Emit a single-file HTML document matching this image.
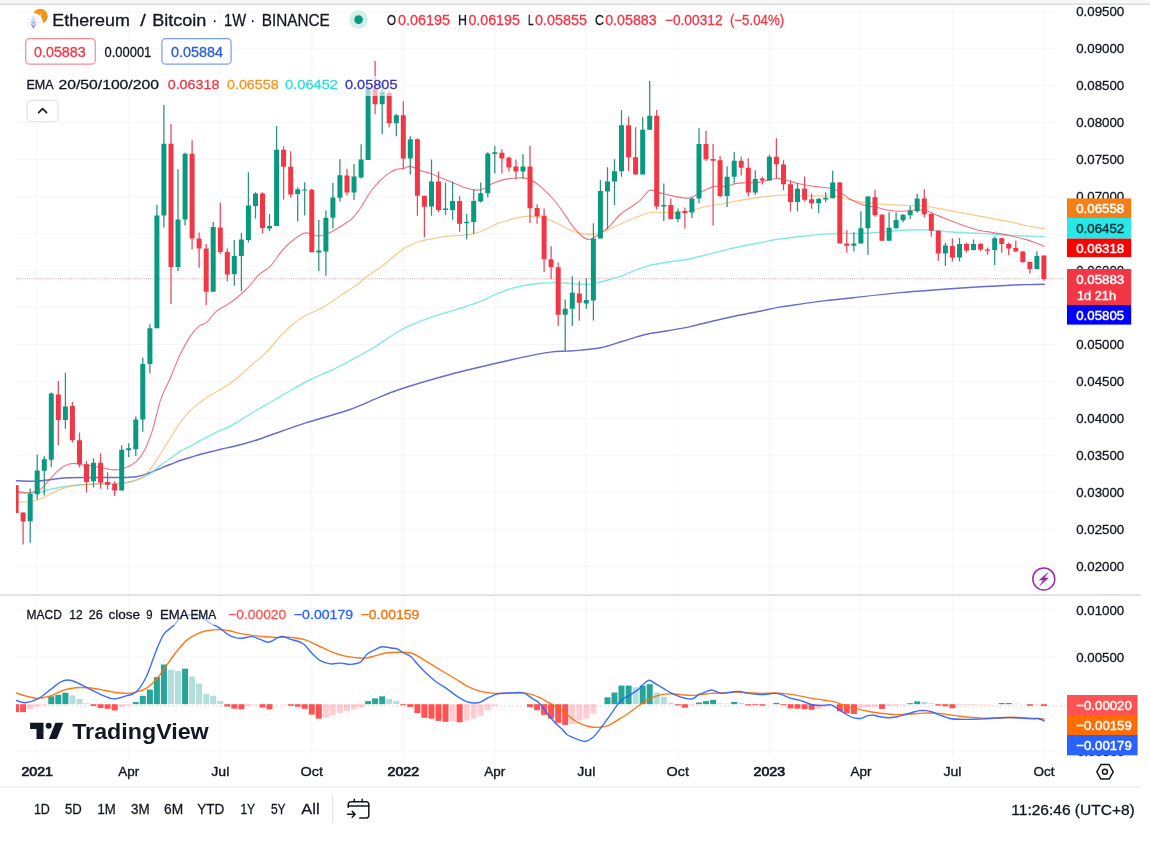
<!DOCTYPE html>
<html lang="en"><head><meta charset="utf-8"><title>Ethereum / Bitcoin 1W BINANCE</title>
<style>html,body{margin:0;padding:0;background:#fff;overflow:hidden}svg{display:block;font-family:"Liberation Sans", "DejaVu Sans", sans-serif;filter:blur(0.45px)}text{white-space:pre}</style>
</head><body>
<svg width="1150" height="847" viewBox="0 0 1150 847">
<rect x="0" y="0" width="1150" height="847" fill="#ffffff"/>
<rect x="0" y="0" width="1150" height="4" fill="#f7f7f8"/>
<rect x="0" y="3.6" width="1150" height="1.2" fill="#d4d5d8"/>
<g stroke="#f5f6f8" stroke-width="1">
<line x1="16" y1="11.8" x2="1057" y2="11.8"/>
<line x1="16" y1="48.7" x2="1057" y2="48.7"/>
<line x1="16" y1="85.7" x2="1057" y2="85.7"/>
<line x1="16" y1="122.7" x2="1057" y2="122.7"/>
<line x1="16" y1="159.6" x2="1057" y2="159.6"/>
<line x1="16" y1="196.6" x2="1057" y2="196.6"/>
<line x1="16" y1="233.6" x2="1057" y2="233.6"/>
<line x1="16" y1="270.5" x2="1057" y2="270.5"/>
<line x1="16" y1="307.5" x2="1057" y2="307.5"/>
<line x1="16" y1="344.5" x2="1057" y2="344.5"/>
<line x1="16" y1="381.4" x2="1057" y2="381.4"/>
<line x1="16" y1="418.4" x2="1057" y2="418.4"/>
<line x1="16" y1="455.4" x2="1057" y2="455.4"/>
<line x1="16" y1="492.4" x2="1057" y2="492.4"/>
<line x1="16" y1="529.3" x2="1057" y2="529.3"/>
<line x1="16" y1="566.3" x2="1057" y2="566.3"/>
<line x1="16" y1="610.0" x2="1057" y2="610.0"/>
<line x1="16" y1="657.0" x2="1057" y2="657.0"/>
<line x1="16" y1="751.0" x2="1057" y2="751.0"/>
<line x1="37.2" y1="5" x2="37.2" y2="594" />
<line x1="37.2" y1="597" x2="37.2" y2="757" />
<line x1="128.7" y1="5" x2="128.7" y2="594" />
<line x1="128.7" y1="597" x2="128.7" y2="757" />
<line x1="220.3" y1="5" x2="220.3" y2="594" />
<line x1="220.3" y1="597" x2="220.3" y2="757" />
<line x1="311.8" y1="5" x2="311.8" y2="594" />
<line x1="311.8" y1="597" x2="311.8" y2="757" />
<line x1="403.3" y1="5" x2="403.3" y2="594" />
<line x1="403.3" y1="597" x2="403.3" y2="757" />
<line x1="494.8" y1="5" x2="494.8" y2="594" />
<line x1="494.8" y1="597" x2="494.8" y2="757" />
<line x1="586.3" y1="5" x2="586.3" y2="594" />
<line x1="586.3" y1="597" x2="586.3" y2="757" />
<line x1="677.9" y1="5" x2="677.9" y2="594" />
<line x1="677.9" y1="597" x2="677.9" y2="757" />
<line x1="769.4" y1="5" x2="769.4" y2="594" />
<line x1="769.4" y1="597" x2="769.4" y2="757" />
<line x1="860.9" y1="5" x2="860.9" y2="594" />
<line x1="860.9" y1="597" x2="860.9" y2="757" />
<line x1="952.4" y1="5" x2="952.4" y2="594" />
<line x1="952.4" y1="597" x2="952.4" y2="757" />
<line x1="1043.9" y1="5" x2="1043.9" y2="594" />
<line x1="1043.9" y1="597" x2="1043.9" y2="757" />
</g>
<rect x="0" y="594.2" width="1141" height="1.8" fill="#dfe0e4"/>
<rect x="0" y="786" width="1141" height="1.6" fill="#eff0f2"/>
<line x1="16" y1="278.8" x2="1066" y2="278.8" stroke="#cf7f8a" stroke-width="1" stroke-dasharray="1 1.2" opacity="0.75"/>
<defs><clipPath id="cp"><rect x="16" y="4" width="1050" height="784"/></clipPath></defs>
<g clip-path="url(#cp)">
<rect x="13.1" y="704.2" width="6" height="7.9" fill="#ff5252"/>
<rect x="20.1" y="704.2" width="6" height="7.9" fill="#ff5252"/>
<rect x="27.2" y="704.2" width="6" height="5.2" fill="#ffcdd2"/>
<rect x="34.2" y="704.2" width="6" height="2.5" fill="#ffcdd2"/>
<rect x="41.3" y="704.2" width="6" height="1.0" fill="#ffcdd2"/>
<rect x="48.3" y="696.3" width="6" height="7.9" fill="#26a69a"/>
<rect x="55.3" y="694.8" width="6" height="9.4" fill="#26a69a"/>
<rect x="62.4" y="692.7" width="6" height="11.5" fill="#26a69a"/>
<rect x="69.4" y="695.4" width="6" height="8.8" fill="#b2dfdb"/>
<rect x="76.5" y="699.0" width="6" height="5.2" fill="#b2dfdb"/>
<rect x="83.5" y="703.2" width="6" height="1.0" fill="#b2dfdb"/>
<rect x="90.5" y="704.2" width="6" height="1.7" fill="#ff5252"/>
<rect x="97.6" y="704.2" width="6" height="3.8" fill="#ff5252"/>
<rect x="104.6" y="704.2" width="6" height="4.6" fill="#ff5252"/>
<rect x="111.7" y="704.2" width="6" height="6.3" fill="#ff5252"/>
<rect x="118.7" y="704.2" width="6" height="2.5" fill="#ffcdd2"/>
<rect x="125.7" y="704.2" width="6" height="1.3" fill="#ffcdd2"/>
<rect x="132.8" y="702.1" width="6" height="2.1" fill="#26a69a"/>
<rect x="139.8" y="695.8" width="6" height="8.4" fill="#26a69a"/>
<rect x="146.9" y="689.6" width="6" height="14.6" fill="#26a69a"/>
<rect x="153.9" y="677.1" width="6" height="27.1" fill="#26a69a"/>
<rect x="160.9" y="664.5" width="6" height="39.7" fill="#26a69a"/>
<rect x="168.0" y="669.8" width="6" height="34.4" fill="#b2dfdb"/>
<rect x="175.0" y="670.8" width="6" height="33.4" fill="#b2dfdb"/>
<rect x="182.1" y="668.7" width="6" height="35.5" fill="#26a69a"/>
<rect x="189.1" y="676.6" width="6" height="27.6" fill="#b2dfdb"/>
<rect x="196.1" y="683.7" width="6" height="20.5" fill="#b2dfdb"/>
<rect x="203.2" y="693.8" width="6" height="10.4" fill="#b2dfdb"/>
<rect x="210.2" y="695.8" width="6" height="8.4" fill="#b2dfdb"/>
<rect x="217.3" y="701.1" width="6" height="3.1" fill="#b2dfdb"/>
<rect x="224.3" y="704.2" width="6" height="2.3" fill="#ff5252"/>
<rect x="231.3" y="704.2" width="6" height="4.4" fill="#ff5252"/>
<rect x="238.4" y="704.2" width="6" height="5.0" fill="#ff5252"/>
<rect x="245.4" y="704.2" width="6" height="1.9" fill="#ffcdd2"/>
<rect x="252.5" y="704.2" width="6" height="0.6" fill="#ffcdd2"/>
<rect x="259.5" y="704.2" width="6" height="3.3" fill="#ff5252"/>
<rect x="266.5" y="704.2" width="6" height="5.0" fill="#ff5252"/>
<rect x="280.6" y="704.2" width="6" height="0.5" fill="#ffcdd2"/>
<rect x="287.7" y="704.2" width="6" height="1.5" fill="#ff5252"/>
<rect x="294.7" y="704.2" width="6" height="2.5" fill="#ff5252"/>
<rect x="301.7" y="704.2" width="6" height="4.6" fill="#ff5252"/>
<rect x="308.8" y="704.2" width="6" height="10.4" fill="#ff5252"/>
<rect x="315.8" y="704.2" width="6" height="14.4" fill="#ff5252"/>
<rect x="322.9" y="704.2" width="6" height="13.6" fill="#ffcdd2"/>
<rect x="329.9" y="704.2" width="6" height="10.9" fill="#ffcdd2"/>
<rect x="336.9" y="704.2" width="6" height="8.8" fill="#ffcdd2"/>
<rect x="344.0" y="704.2" width="6" height="6.7" fill="#ffcdd2"/>
<rect x="351.0" y="704.2" width="6" height="5.2" fill="#ffcdd2"/>
<rect x="358.1" y="704.2" width="6" height="3.1" fill="#ffcdd2"/>
<rect x="365.1" y="701.1" width="6" height="3.1" fill="#26a69a"/>
<rect x="372.1" y="698.4" width="6" height="5.8" fill="#26a69a"/>
<rect x="379.2" y="696.3" width="6" height="7.9" fill="#26a69a"/>
<rect x="386.2" y="699.0" width="6" height="5.2" fill="#b2dfdb"/>
<rect x="393.3" y="701.1" width="6" height="3.1" fill="#b2dfdb"/>
<rect x="400.3" y="704.2" width="6" height="1.0" fill="#ff5252"/>
<rect x="407.3" y="704.2" width="6" height="2.7" fill="#ff5252"/>
<rect x="414.4" y="704.2" width="6" height="8.8" fill="#ff5252"/>
<rect x="421.4" y="704.2" width="6" height="13.6" fill="#ff5252"/>
<rect x="428.5" y="704.2" width="6" height="14.4" fill="#ff5252"/>
<rect x="435.5" y="704.2" width="6" height="16.7" fill="#ff5252"/>
<rect x="442.5" y="704.2" width="6" height="17.6" fill="#ff5252"/>
<rect x="449.6" y="704.2" width="6" height="17.0" fill="#ffcdd2"/>
<rect x="456.6" y="704.2" width="6" height="18.1" fill="#ff5252"/>
<rect x="463.7" y="704.2" width="6" height="16.5" fill="#ffcdd2"/>
<rect x="470.7" y="704.2" width="6" height="14.4" fill="#ffcdd2"/>
<rect x="477.7" y="704.2" width="6" height="11.9" fill="#ffcdd2"/>
<rect x="484.8" y="704.2" width="6" height="6.0" fill="#ffcdd2"/>
<rect x="491.8" y="704.2" width="6" height="1.5" fill="#ffcdd2"/>
<rect x="527.0" y="704.2" width="6" height="2.9" fill="#ff5252"/>
<rect x="534.1" y="704.2" width="6" height="6.0" fill="#ff5252"/>
<rect x="541.1" y="704.2" width="6" height="10.6" fill="#ff5252"/>
<rect x="548.1" y="704.2" width="6" height="14.4" fill="#ff5252"/>
<rect x="555.2" y="704.2" width="6" height="18.6" fill="#ff5252"/>
<rect x="562.2" y="704.2" width="6" height="20.7" fill="#ff5252"/>
<rect x="569.3" y="704.2" width="6" height="19.6" fill="#ffcdd2"/>
<rect x="576.3" y="704.2" width="6" height="16.5" fill="#ffcdd2"/>
<rect x="583.3" y="704.2" width="6" height="14.4" fill="#ffcdd2"/>
<rect x="590.4" y="704.2" width="6" height="9.2" fill="#ffcdd2"/>
<rect x="604.5" y="697.3" width="6" height="6.9" fill="#26a69a"/>
<rect x="611.5" y="692.5" width="6" height="11.7" fill="#26a69a"/>
<rect x="618.5" y="685.6" width="6" height="18.6" fill="#26a69a"/>
<rect x="625.6" y="685.6" width="6" height="18.6" fill="#26a69a"/>
<rect x="632.6" y="687.3" width="6" height="16.9" fill="#b2dfdb"/>
<rect x="639.7" y="685.6" width="6" height="18.6" fill="#26a69a"/>
<rect x="646.7" y="684.2" width="6" height="20.0" fill="#26a69a"/>
<rect x="653.7" y="692.5" width="6" height="11.7" fill="#b2dfdb"/>
<rect x="660.8" y="696.7" width="6" height="7.5" fill="#b2dfdb"/>
<rect x="667.8" y="702.8" width="6" height="1.4" fill="#b2dfdb"/>
<rect x="674.9" y="704.2" width="6" height="1.2" fill="#ff5252"/>
<rect x="681.9" y="704.2" width="6" height="3.5" fill="#ff5252"/>
<rect x="688.9" y="704.2" width="6" height="1.0" fill="#ffcdd2"/>
<rect x="696.0" y="702.5" width="6" height="1.7" fill="#26a69a"/>
<rect x="703.0" y="701.1" width="6" height="3.1" fill="#26a69a"/>
<rect x="710.1" y="699.9" width="6" height="4.3" fill="#26a69a"/>
<rect x="717.1" y="703.4" width="6" height="0.8" fill="#b2dfdb"/>
<rect x="724.1" y="703.6" width="6" height="0.6" fill="#b2dfdb"/>
<rect x="731.2" y="701.9" width="6" height="2.3" fill="#26a69a"/>
<rect x="738.2" y="703.0" width="6" height="1.2" fill="#b2dfdb"/>
<rect x="745.3" y="704.2" width="6" height="1.2" fill="#ff5252"/>
<rect x="752.3" y="704.2" width="6" height="0.9" fill="#ff5252"/>
<rect x="759.3" y="704.2" width="6" height="1.5" fill="#ff5252"/>
<rect x="773.4" y="702.8" width="6" height="1.4" fill="#26a69a"/>
<rect x="780.5" y="704.2" width="6" height="1.0" fill="#ff5252"/>
<rect x="787.5" y="704.2" width="6" height="4.2" fill="#ff5252"/>
<rect x="794.5" y="704.2" width="6" height="4.5" fill="#ff5252"/>
<rect x="801.6" y="704.2" width="6" height="4.9" fill="#ff5252"/>
<rect x="808.6" y="704.2" width="6" height="5.5" fill="#ff5252"/>
<rect x="815.7" y="704.2" width="6" height="4.7" fill="#ffcdd2"/>
<rect x="822.7" y="704.2" width="6" height="2.4" fill="#ffcdd2"/>
<rect x="829.7" y="704.2" width="6" height="0.5" fill="#ffcdd2"/>
<rect x="836.8" y="704.2" width="6" height="7.1" fill="#ff5252"/>
<rect x="843.8" y="704.2" width="6" height="9.2" fill="#ff5252"/>
<rect x="850.9" y="704.2" width="6" height="9.7" fill="#ff5252"/>
<rect x="857.9" y="704.2" width="6" height="3.4" fill="#ffcdd2"/>
<rect x="864.9" y="704.2" width="6" height="3.0" fill="#ffcdd2"/>
<rect x="872.0" y="704.2" width="6" height="2.6" fill="#ffcdd2"/>
<rect x="879.0" y="704.2" width="6" height="4.7" fill="#ff5252"/>
<rect x="886.1" y="704.2" width="6" height="1.9" fill="#ffcdd2"/>
<rect x="893.1" y="704.2" width="6" height="1.4" fill="#ffcdd2"/>
<rect x="900.1" y="704.2" width="6" height="0.7" fill="#ffcdd2"/>
<rect x="907.2" y="703.2" width="6" height="1.0" fill="#26a69a"/>
<rect x="914.2" y="701.4" width="6" height="2.8" fill="#26a69a"/>
<rect x="921.3" y="702.0" width="6" height="2.2" fill="#b2dfdb"/>
<rect x="928.3" y="703.3" width="6" height="0.9" fill="#b2dfdb"/>
<rect x="935.3" y="704.2" width="6" height="1.4" fill="#ff5252"/>
<rect x="942.4" y="704.2" width="6" height="2.1" fill="#ff5252"/>
<rect x="949.4" y="704.2" width="6" height="4.0" fill="#ff5252"/>
<rect x="956.5" y="704.2" width="6" height="1.0" fill="#ffcdd2"/>
<rect x="963.5" y="704.2" width="6" height="0.8" fill="#ffcdd2"/>
<rect x="970.5" y="704.2" width="6" height="0.8" fill="#ffcdd2"/>
<rect x="977.6" y="704.2" width="6" height="0.6" fill="#ffcdd2"/>
<rect x="984.6" y="704.2" width="6" height="0.5" fill="#ffcdd2"/>
<rect x="998.7" y="703.0" width="6" height="1.2" fill="#26a69a"/>
<rect x="1005.7" y="703.0" width="6" height="1.2" fill="#26a69a"/>
<rect x="1012.8" y="703.6" width="6" height="0.6" fill="#b2dfdb"/>
<rect x="1019.8" y="704.2" width="6" height="0.4" fill="#ffcdd2"/>
<rect x="1026.9" y="704.2" width="6" height="1.6" fill="#ff5252"/>
<rect x="1033.9" y="704.2" width="6" height="0.6" fill="#ffcdd2"/>
<rect x="1040.9" y="704.2" width="6" height="1.8" fill="#ff5252"/>
<line x1="16" y1="706.0" x2="1066" y2="706.0" stroke="#ff5252" stroke-width="0.8" stroke-dasharray="2 2" opacity="0.35"/>
<path d="M16.3 480.8C19.5 480.9 29.8 481.3 35.4 481.1C40.9 480.9 44.9 480.2 49.6 479.7C54.3 479.2 57.9 478.4 63.8 478.0C69.7 477.6 75.8 477.6 85.0 477.5C94.2 477.4 110.4 477.6 119.0 477.5C127.6 477.4 131.6 477.4 136.5 476.7C141.4 476.0 144.5 474.7 148.5 473.3C152.5 471.9 156.8 469.8 160.5 468.3C164.2 466.8 167.2 465.6 170.6 464.3C173.9 463.0 177.2 461.5 180.6 460.3C183.9 459.1 187.3 458.3 190.7 457.3C194.0 456.3 197.4 455.1 200.7 454.2C204.0 453.3 207.3 452.6 210.7 451.8C214.0 451.0 217.6 450.0 220.8 449.2C224.0 448.4 226.8 447.9 230.0 447.2C233.2 446.5 234.9 446.3 240.2 444.8C245.5 443.3 251.1 441.9 262.0 438.2C272.9 434.5 291.1 427.6 305.7 422.9C320.2 418.2 337.7 413.8 349.3 409.8C360.9 405.8 367.1 402.3 375.5 398.9C383.9 395.5 387.6 393.4 400.0 389.3C412.4 385.2 431.6 379.4 450.0 374.5C468.4 369.6 497.0 363.1 510.4 360.0C523.8 356.9 523.7 356.9 530.4 355.6C537.1 354.3 544.5 352.9 550.5 352.1C556.5 351.4 561.6 351.4 566.6 351.1C571.6 350.8 574.9 350.7 580.6 350.1C586.3 349.6 593.7 349.3 600.7 347.8C607.7 346.3 615.2 343.5 622.6 341.3C630.0 339.1 637.7 336.3 645.2 334.5C652.7 332.7 660.3 332.0 667.8 330.7C675.3 329.4 682.9 328.2 690.4 326.6C697.9 325.0 705.5 322.8 713.0 321.0C720.5 319.2 728.2 317.6 735.7 316.0C743.2 314.4 750.8 313.0 758.3 311.5C765.8 310.0 773.4 308.2 780.9 306.9C788.4 305.6 796.0 304.7 803.5 303.6C811.0 302.6 818.6 301.5 826.1 300.6C833.6 299.7 843.0 298.9 848.7 298.3C854.4 297.7 851.7 297.8 860.3 296.9C868.9 295.9 887.0 293.8 900.4 292.6C913.8 291.4 927.1 290.5 940.5 289.5C953.9 288.5 969.1 287.4 980.7 286.7C992.3 286.0 1002.5 285.5 1010.0 285.2C1017.5 284.9 1020.3 284.8 1026.0 284.6C1031.7 284.5 1041.2 284.4 1044.3 284.3" fill="none" stroke="#4040c4" stroke-width="1.45" stroke-opacity="0.78" stroke-linejoin="round" stroke-linecap="round"/>
<path d="M16.3 493.0C18.6 493.0 25.6 493.2 30.0 493.0C34.4 492.8 39.2 492.3 42.5 491.7C45.8 491.1 46.8 490.3 49.6 489.6C52.4 488.9 56.0 488.2 59.5 487.5C63.0 486.8 66.5 486.1 70.8 485.6C75.0 485.1 80.1 484.9 85.0 484.6C89.9 484.3 94.4 484.2 100.3 484.0C106.2 483.8 115.0 483.8 120.4 483.4C125.8 482.9 129.2 482.1 132.5 481.3C135.8 480.5 137.5 479.6 140.5 478.3C143.5 477.0 147.2 475.5 150.5 473.3C153.8 471.1 157.2 467.8 160.5 465.3C163.8 462.8 167.2 460.7 170.6 458.3C173.9 455.9 177.2 453.2 180.6 451.2C183.9 449.2 187.3 448.0 190.7 446.2C194.0 444.4 197.4 442.0 200.7 440.2C204.0 438.4 207.3 436.9 210.7 435.2C214.0 433.5 217.6 431.7 220.8 430.2C224.0 428.7 224.8 429.1 230.0 426.2C235.2 423.3 244.6 417.4 252.0 413.0C259.4 408.6 268.1 403.8 274.5 400.0C280.9 396.2 284.5 393.9 290.5 390.5C296.5 387.1 303.9 382.8 310.6 379.5C317.3 376.2 324.0 373.7 330.7 370.5C337.4 367.3 345.9 362.9 350.8 360.4C355.7 357.9 355.9 357.7 360.0 355.4C364.1 353.1 368.8 350.6 375.5 346.5C382.2 342.4 392.6 334.7 400.0 330.5C407.4 326.3 413.4 324.1 420.1 321.4C426.8 318.7 433.4 316.6 440.1 314.4C446.8 312.2 453.5 310.6 460.2 308.4C466.9 306.2 473.6 304.1 480.3 301.4C487.0 298.7 493.6 294.8 500.3 292.3C507.0 289.8 513.7 287.8 520.4 286.3C527.1 284.8 533.8 283.9 540.5 283.3C547.2 282.7 553.8 282.5 560.5 282.7C567.2 282.9 575.2 284.1 580.6 284.3C586.0 284.5 589.4 284.3 592.7 283.9C596.1 283.5 597.4 282.9 600.7 282.0C604.0 281.1 609.1 279.6 612.7 278.5C616.4 277.4 617.2 277.7 622.6 275.7C628.0 273.7 637.7 268.9 645.2 266.7C652.7 264.4 660.3 263.5 667.8 262.2C675.3 260.9 682.9 260.3 690.4 258.8C697.9 257.3 705.5 255.0 713.0 253.1C720.5 251.2 728.2 249.2 735.7 247.5C743.2 245.8 750.8 244.4 758.3 243.0C765.8 241.6 773.4 239.9 780.9 238.8C788.4 237.7 796.0 237.0 803.5 236.2C811.0 235.4 820.0 234.4 826.1 233.9C832.2 233.4 834.5 233.5 840.2 233.4C845.9 233.3 853.6 233.6 860.3 233.4C867.0 233.2 873.6 232.8 880.3 232.3C887.0 231.8 893.7 230.7 900.4 230.3C907.1 229.9 915.1 229.7 920.5 229.7C925.9 229.7 927.1 229.9 932.5 230.3C937.9 230.7 944.6 231.5 952.6 232.0C960.6 232.5 972.7 232.9 980.7 233.4C988.7 233.9 995.9 234.5 1000.8 234.8C1005.7 235.1 1002.8 235.1 1010.0 235.4C1017.2 235.7 1038.6 236.4 1044.3 236.6" fill="none" stroke="#55e0d8" stroke-width="1.4" stroke-opacity="0.72" stroke-linejoin="round" stroke-linecap="round"/>
<path d="M16.3 502.3C17.8 502.2 22.6 502.2 25.5 502.0C28.4 501.8 31.4 501.4 34.0 500.9C36.6 500.4 38.5 499.9 41.1 498.8C43.7 497.7 46.5 496.0 49.6 494.5C52.7 493.0 56.4 490.9 59.5 489.6C62.6 488.3 64.7 487.6 68.0 486.8C71.3 486.1 75.5 485.5 79.3 485.1C83.1 484.7 86.5 484.4 90.7 484.2C95.0 483.9 99.8 483.7 104.8 483.6C109.8 483.5 115.8 484.0 120.4 483.6C125.0 483.2 129.2 482.2 132.5 481.3C135.8 480.4 137.8 480.0 140.5 478.3C143.2 476.6 145.8 474.3 148.5 471.3C151.2 468.3 153.8 464.3 156.5 460.3C159.2 456.3 161.9 451.6 164.6 447.2C167.3 442.8 169.9 438.4 172.6 434.2C175.3 430.0 177.6 426.1 180.6 422.1C183.6 418.1 187.3 413.4 190.7 410.1C194.0 406.8 197.4 404.6 200.7 402.1C204.0 399.6 207.4 397.1 210.7 395.0C214.0 392.9 217.0 391.5 220.3 389.5C223.6 387.5 226.6 385.9 230.3 383.2C234.0 380.5 238.4 376.9 242.4 373.5C246.4 370.1 250.4 366.0 254.4 362.5C258.4 359.0 262.5 356.4 266.5 352.4C270.5 348.4 274.5 342.8 278.5 338.4C282.5 334.0 286.5 329.8 290.5 326.3C294.5 322.8 298.9 319.6 302.6 317.3C306.3 315.0 308.9 314.1 312.6 312.3C316.3 310.5 320.7 308.7 324.7 306.3C328.7 303.9 332.7 300.9 336.7 298.2C340.7 295.5 345.2 292.5 348.8 290.2C352.4 287.9 355.0 286.5 358.0 284.2C361.0 281.9 362.4 279.9 366.8 276.6C371.2 273.3 378.8 268.6 384.3 264.4C389.8 260.2 395.7 254.4 400.0 251.2C404.3 248.0 406.6 246.9 410.0 245.2C413.4 243.5 416.8 242.2 420.1 241.2C423.5 240.2 426.8 239.9 430.1 239.2C433.4 238.5 436.4 237.8 440.1 237.2C443.8 236.6 448.2 236.1 452.2 235.8C456.2 235.5 460.2 235.6 464.2 235.2C468.2 234.8 472.6 234.1 476.3 233.1C480.0 232.1 483.0 230.6 486.3 229.1C489.6 227.6 492.6 225.6 496.3 224.1C500.0 222.6 504.4 221.3 508.4 220.1C512.4 218.9 516.7 217.8 520.4 217.1C524.1 216.4 527.0 216.1 530.4 216.1C533.8 216.1 537.1 216.4 540.5 217.1C543.9 217.8 547.2 218.8 550.5 220.1C553.8 221.4 557.1 223.4 560.5 225.1C563.9 226.8 567.0 228.9 570.6 230.3C574.2 231.7 578.4 232.9 582.0 233.6C585.6 234.3 588.8 234.6 592.1 234.3C595.5 234.0 598.4 233.2 602.1 232.0C605.8 230.8 610.2 228.8 614.2 227.0C618.2 225.2 622.2 223.2 626.2 221.5C630.2 219.8 634.2 218.0 638.2 216.5C642.2 215.0 646.3 213.2 650.3 212.5C654.3 211.8 658.3 212.4 662.3 212.5C666.3 212.6 670.4 213.1 674.4 212.9C678.4 212.7 682.4 212.2 686.4 211.5C690.4 210.8 694.4 209.5 698.4 208.5C702.4 207.5 706.5 206.2 710.5 205.5C714.5 204.8 718.5 204.7 722.5 204.0C726.5 203.3 730.6 202.2 734.6 201.4C738.6 200.6 742.6 200.1 746.6 199.4C750.6 198.7 754.6 198.0 758.6 197.4C762.6 196.8 766.7 196.4 770.7 196.0C774.7 195.6 777.8 195.0 782.7 195.0C787.6 195.0 793.9 195.7 800.1 195.8C806.3 195.9 814.1 195.7 820.1 195.8C826.1 195.9 831.5 195.6 836.2 196.2C840.9 196.8 844.2 198.3 848.2 199.2C852.2 200.1 856.3 201.1 860.3 201.8C864.3 202.5 867.6 202.7 872.3 203.2C877.0 203.7 883.0 204.3 888.4 204.7C893.8 205.0 899.0 205.1 904.4 205.3C909.8 205.5 915.8 205.6 920.5 205.9C925.2 206.2 927.8 206.6 932.5 207.3C937.2 208.0 943.2 209.3 948.6 210.3C954.0 211.3 959.2 212.3 964.6 213.3C970.0 214.3 975.4 215.3 980.7 216.3C986.1 217.3 991.8 218.5 996.7 219.4C1001.6 220.3 1005.1 220.8 1010.0 221.8C1014.9 222.8 1020.3 224.3 1026.0 225.5C1031.7 226.7 1041.2 228.2 1044.3 228.8" fill="none" stroke="#f5a742" stroke-width="1.2" stroke-opacity="0.62" stroke-linejoin="round" stroke-linecap="round"/>
<path d="M16.3 491.0C17.8 491.3 22.6 492.6 25.5 492.7C28.4 492.8 31.4 492.3 34.0 491.7C36.6 491.1 38.7 490.7 41.1 488.9C43.5 487.1 45.6 483.9 48.2 481.1C50.8 478.3 53.9 474.5 56.7 471.9C59.5 469.3 62.4 466.9 65.2 465.5C68.0 464.1 70.9 463.5 73.7 463.4C76.5 463.3 79.4 464.4 82.2 464.8C85.0 465.2 86.6 464.9 90.3 465.5C94.0 466.1 100.4 467.6 104.4 468.3C108.4 469.0 111.1 469.9 114.4 469.9C117.7 469.9 120.7 469.7 124.4 468.3C128.1 466.9 133.2 464.3 136.5 461.3C139.8 458.3 141.8 455.4 144.5 450.2C147.2 445.0 149.8 438.5 152.5 430.2C155.2 421.9 157.6 408.7 160.5 400.1C163.4 391.5 166.8 386.1 170.1 378.5C173.4 370.9 176.8 361.4 180.2 354.4C183.5 347.4 187.0 341.1 190.2 336.4C193.4 331.6 196.5 328.2 199.2 325.9C201.9 323.6 203.5 325.1 206.3 322.7C209.2 320.3 213.0 314.2 216.3 311.3C219.6 308.4 223.0 307.5 226.3 305.3C229.7 303.1 232.7 301.2 236.4 298.2C240.1 295.2 244.7 291.0 248.4 287.2C252.1 283.4 254.7 278.7 258.4 275.2C262.1 271.7 266.5 270.3 270.5 266.1C274.5 261.9 278.5 254.6 282.5 250.1C286.5 245.6 290.9 241.8 294.6 239.0C298.3 236.2 301.8 233.8 304.6 233.0C307.4 232.2 309.3 233.9 311.6 234.4C313.9 234.9 316.1 236.1 318.6 236.0C321.1 235.9 324.0 235.0 326.7 234.0C329.4 233.0 332.0 231.5 334.7 230.0C337.4 228.5 340.1 226.9 343.0 225.0C345.9 223.1 349.1 221.3 352.0 218.6C354.9 215.8 357.1 212.8 360.1 208.5C363.1 204.2 366.8 197.2 370.1 192.5C373.4 187.8 376.8 183.8 380.1 180.4C383.5 177.1 387.5 174.2 390.2 172.4C392.9 170.6 393.9 170.1 396.2 169.4C398.5 168.7 401.9 168.9 404.2 168.4C406.5 167.9 407.5 166.1 410.2 166.4C412.9 166.7 416.9 169.2 420.3 170.4C423.7 171.6 427.0 172.2 430.3 173.4C433.6 174.6 436.6 175.9 440.3 177.4C444.0 178.9 448.4 180.8 452.4 182.5C456.4 184.2 460.4 186.2 464.4 187.5C468.4 188.8 473.1 189.9 476.5 190.1C479.9 190.3 481.8 189.6 484.5 188.5C487.2 187.4 489.1 185.0 492.5 183.5C495.9 182.0 500.6 180.3 504.6 179.4C508.6 178.5 512.9 178.2 516.6 178.0C520.3 177.8 523.2 177.5 526.6 178.4C530.0 179.3 533.7 181.5 536.7 183.5C539.7 185.5 542.0 188.0 544.7 190.5C547.4 193.0 550.0 195.4 552.7 198.5C555.4 201.6 557.8 204.7 560.8 208.8C563.8 212.9 567.3 218.9 570.6 223.3C573.9 227.7 577.8 232.3 580.6 235.0C583.4 237.7 585.6 238.9 587.6 239.4C589.6 239.9 590.5 239.3 592.7 238.2C594.9 237.1 598.0 234.9 600.7 233.0C603.4 231.1 605.5 230.1 608.7 227.0C612.0 223.9 616.6 217.8 620.2 214.5C623.8 211.2 626.9 209.8 630.2 207.5C633.5 205.2 637.0 203.2 640.2 200.4C643.4 197.6 646.3 191.7 649.3 190.4C652.3 189.1 654.8 191.6 658.3 192.4C661.8 193.2 666.3 194.5 670.3 195.4C674.3 196.3 679.0 197.4 682.4 197.8C685.8 198.2 687.7 198.5 690.4 197.8C693.1 197.1 695.7 194.8 698.4 193.4C701.1 192.0 703.8 190.6 706.5 189.4C709.2 188.2 711.2 186.9 714.5 186.4C717.8 185.9 722.8 186.9 726.5 186.4C730.2 185.9 733.2 184.0 736.6 183.4C740.0 182.8 742.9 183.0 746.6 182.8C750.3 182.6 754.6 183.0 758.6 182.4C762.6 181.8 767.4 180.0 770.7 179.4C774.1 178.8 775.5 178.3 778.7 178.6C781.9 178.9 786.4 180.1 790.0 181.0C793.6 181.9 795.8 183.1 800.1 184.0C804.5 184.9 811.1 185.9 816.1 186.6C821.1 187.3 826.2 187.3 830.2 188.2C834.2 189.1 836.9 190.4 840.2 192.2C843.5 194.0 846.2 197.0 850.2 199.2C854.2 201.4 859.9 204.0 864.3 205.3C868.6 206.7 872.3 206.5 876.3 207.3C880.3 208.1 884.4 209.6 888.4 210.3C892.4 211.0 896.4 211.3 900.4 211.3C904.4 211.3 908.5 210.5 912.5 210.3C916.5 210.1 921.2 209.8 924.5 210.3C927.8 210.8 929.1 212.0 932.5 213.3C935.9 214.6 939.9 216.4 944.6 218.3C949.3 220.2 955.3 222.6 960.6 224.5C965.9 226.4 971.1 228.3 976.5 229.7C981.9 231.0 987.5 231.6 993.0 232.6C998.5 233.6 1004.1 234.3 1009.6 235.5C1015.1 236.7 1021.7 238.4 1026.1 239.6C1030.5 240.8 1033.0 241.8 1036.0 242.9C1039.0 244.1 1042.9 245.9 1044.3 246.5" fill="none" stroke="#ec4a5c" stroke-width="1.1" stroke-opacity="0.78" stroke-linejoin="round" stroke-linecap="round"/>
<path d="M30.2 488.5V542.7M37.2 454.6V499.5M44.3 456.3V495.4M51.3 392.4V467.3M65.4 372.7V428.8M93.5 458.3V487.4M121.7 445.2V490.4M128.7 443.2V457.3M135.8 416.5V455.9M142.8 357.4V431.8M149.9 324.3V373.5M156.9 204.8V328.3M163.9 105.0V227.5M178.0 169.3V271.1M185.1 152.6V225.5M213.2 222.0V291.8M234.3 240.0V285.8M241.4 232.9V291.2M248.4 172.3V242.5M255.5 192.3V218.4M269.5 214.0V231.1M276.6 126.1V226.1M297.7 187.3V221.4M304.7 182.3V215.4M318.8 220.0V271.1M325.9 210.4V275.8M332.9 182.7V228.5M339.9 159.2V201.4M354.0 164.0V200.0M361.1 144.3V178.4M368.1 87.1V160.0M382.2 89.0V134.3M396.3 113.8V136.3M410.3 136.3V174.4M431.5 159.4V215.7M445.5 182.5V215.0M452.6 181.4V219.7M466.7 214.0V239.2M473.7 189.5V233.7M480.7 182.5V202.5M487.8 152.3V197.5M494.8 145.9V173.4M523.0 154.0V178.4M565.2 299.4V351.5M572.3 276.3V326.1M586.3 278.3V308.8M593.4 223.3V320.4M600.4 180.0V238.5M607.5 167.3V229.3M614.5 159.3V204.9M621.5 110.1V176.8M642.7 117.2V174.4M649.7 81.0V129.8M663.8 183.4V220.9M677.9 208.5V222.1M691.9 197.4V218.1M699.0 128.2V203.5M727.1 166.3V206.9M734.2 151.9V183.4M755.3 170.3V194.8M769.4 154.7V180.4M797.5 183.0V211.4M818.7 198.2V213.3M825.7 192.2V202.2M832.7 170.7V198.2M853.9 232.3V251.4M860.9 211.3V243.4M867.9 196.2V254.8M889.1 212.3V240.8M896.1 212.3V228.7M903.1 214.3V222.3M910.2 205.9V219.3M917.2 193.8V212.7M945.4 242.8V266.1M959.5 238.0V261.4M973.5 239.4V250.4M994.7 236.4V265.0M1036.9 251.2V269.6" stroke="#2d8f7c" stroke-width="1.25" fill="none"/>
<path d="M16.1 485.3V513.0M23.1 512.5V544.6M58.3 381.0V445.2M72.4 401.7V442.6M79.5 432.6V467.3M86.5 460.9V492.4M100.6 453.2V488.4M107.6 472.3V489.4M114.7 481.3V496.0M171.0 124.1V303.9M192.1 140.2V249.5M199.1 232.5V267.7M206.2 244.0V305.3M220.3 202.8V254.0M227.3 248.5V281.2M262.5 192.3V233.5M283.6 146.2V199.4M290.7 151.2V197.4M311.8 188.7V252.2M347.0 168.8V195.5M375.1 61.0V114.2M389.2 91.0V127.3M403.3 101.2V168.4M417.4 138.3V215.7M424.4 195.8V237.2M438.5 171.4V212.6M459.6 196.2V231.7M501.9 149.3V173.4M508.9 156.4V171.4M515.9 159.4V179.4M530.0 145.9V223.1M537.1 204.2V223.7M544.1 208.5V271.9M551.1 246.2V279.3M558.2 262.6V326.1M579.3 281.3V320.8M628.6 116.6V171.3M635.6 127.2V174.4M656.7 110.1V209.5M670.8 198.4V218.9M684.9 207.5V228.5M706.0 130.8V161.3M713.1 143.9V225.5M720.1 155.9V197.4M741.2 156.7V175.4M748.3 158.3V196.4M762.3 176.4V184.4M776.4 138.2V178.4M783.5 160.2V190.3M790.5 180.8V211.4M804.6 176.6V201.8M811.6 193.8V208.7M839.8 181.8V243.4M846.8 229.9V252.8M875.0 189.8V216.7M882.0 213.9V240.8M924.3 189.2V217.3M931.3 213.3V236.8M938.3 230.3V260.8M952.4 238.4V261.4M966.5 242.4V252.4M980.6 242.8V251.0M987.6 247.4V254.8M1001.7 237.4V252.7M1008.7 242.4V255.3M1015.8 240.5V252.0M1022.8 251.0V262.8M1029.9 261.5V273.5M1043.9 255.6V280.7" stroke="#e2495a" stroke-width="1.25" fill="none"/>
<path d="M27.7 493.8h5V521.2h-5zM34.7 470.6h5V494.2h-5zM41.8 459.3h5V470.7h-5zM48.8 393.6h5V459.7h-5zM62.9 406.5h5V420.1h-5zM91.0 462.7h5V481.3h-5zM119.2 449.8h5V490.4h-5zM126.2 448.2h5V450.2h-5zM133.3 419.5h5V449.2h-5zM140.3 364.1h5V419.5h-5zM147.4 328.3h5V364.1h-5zM154.4 215.4h5V328.3h-5zM161.4 143.8h5V215.4h-5zM175.5 219.4h5V267.1h-5zM182.6 153.8h5V219.4h-5zM210.7 226.9h5V291.8h-5zM231.8 256.1h5V274.1h-5zM238.9 239.5h5V256.1h-5zM245.9 205.4h5V240.1h-5zM253.0 193.4h5V206.0h-5zM267.0 226.1h5V228.5h-5zM274.1 149.8h5V226.1h-5zM295.2 189.3h5V194.0h-5zM302.2 189.4h5V190.6h-5zM316.3 250.5h5V252.5h-5zM323.4 217.8h5V251.5h-5zM330.4 197.4h5V217.8h-5zM337.4 175.3h5V197.8h-5zM351.5 176.4h5V192.5h-5zM358.6 159.4h5V177.4h-5zM365.6 89.1h5V160.0h-5zM379.7 92.1h5V104.2h-5zM393.8 115.2h5V123.2h-5zM407.8 139.3h5V158.4h-5zM429.0 181.4h5V206.5h-5zM443.0 208.5h5V210.0h-5zM450.1 201.0h5V210.0h-5zM464.2 221.7h5V223.3h-5zM471.2 201.0h5V222.1h-5zM478.2 193.2h5V201.5h-5zM485.3 153.4h5V193.2h-5zM492.3 152.3h5V154.0h-5zM520.5 166.4h5V171.4h-5zM562.7 308.8h5V314.8h-5zM569.8 292.7h5V308.8h-5zM583.8 300.0h5V303.4h-5zM590.9 238.5h5V300.4h-5zM597.9 190.9h5V238.5h-5zM605.0 181.4h5V191.4h-5zM612.0 171.3h5V181.4h-5zM619.0 125.2h5V171.3h-5zM640.2 129.8h5V174.4h-5zM647.2 115.8h5V129.8h-5zM661.3 204.9h5V206.5h-5zM675.4 211.5h5V218.9h-5zM689.4 198.4h5V212.5h-5zM696.5 143.9h5V198.4h-5zM724.6 176.8h5V196.0h-5zM731.7 160.7h5V176.8h-5zM752.8 179.0h5V192.4h-5zM766.9 156.7h5V180.4h-5zM795.0 188.7h5V201.9h-5zM816.2 198.8h5V203.2h-5zM823.2 197.8h5V199.4h-5zM830.2 182.6h5V198.2h-5zM851.4 243.4h5V245.8h-5zM858.4 228.3h5V243.4h-5zM865.4 196.6h5V228.3h-5zM886.6 227.7h5V240.8h-5zM893.6 219.9h5V228.3h-5zM900.6 214.7h5V220.3h-5zM907.7 210.7h5V215.3h-5zM914.7 198.6h5V211.3h-5zM942.9 245.4h5V253.4h-5zM957.0 244.0h5V257.4h-5zM971.0 244.0h5V250.0h-5zM992.2 238.2h5V250.0h-5zM1034.4 256.1h5V269.0h-5z" fill="#089981"/>
<path d="M13.6 485.3h5V513.0h-5zM20.6 512.5h5V521.5h-5zM55.8 394.4h5V420.1h-5zM69.9 406.1h5V440.2h-5zM77.0 440.2h5V464.3h-5zM84.0 464.3h5V481.9h-5zM98.1 462.7h5V482.7h-5zM105.1 482.0h5V484.8h-5zM112.2 484.0h5V490.4h-5zM168.5 143.8h5V267.1h-5zM189.6 153.8h5V238.5h-5zM196.6 238.5h5V248.5h-5zM203.7 248.5h5V291.8h-5zM217.8 227.5h5V252.0h-5zM224.8 252.0h5V274.5h-5zM260.0 193.4h5V228.1h-5zM281.1 149.8h5V166.7h-5zM288.2 166.7h5V194.4h-5zM309.3 189.7h5V252.2h-5zM344.5 175.4h5V192.5h-5zM372.6 89.1h5V104.2h-5zM386.7 93.1h5V123.2h-5zM400.8 115.2h5V158.4h-5zM414.9 139.3h5V195.8h-5zM421.9 195.8h5V206.7h-5zM436.0 181.4h5V210.0h-5zM457.1 201.0h5V223.7h-5zM499.4 152.7h5V158.4h-5zM506.4 157.8h5V167.4h-5zM513.4 166.4h5V171.4h-5zM527.5 166.4h5V208.3h-5zM534.6 207.9h5V216.3h-5zM541.6 215.7h5V259.2h-5zM548.6 259.2h5V267.3h-5zM555.7 267.3h5V314.8h-5zM576.8 293.4h5V302.8h-5zM626.1 125.2h5V157.3h-5zM633.1 157.3h5V174.4h-5zM654.2 115.8h5V206.5h-5zM668.3 204.9h5V218.9h-5zM682.4 211.1h5V212.9h-5zM703.5 143.9h5V159.3h-5zM710.6 158.9h5V160.7h-5zM717.6 160.3h5V196.0h-5zM738.7 160.7h5V167.7h-5zM745.8 167.7h5V192.4h-5zM759.8 178.4h5V180.4h-5zM773.9 156.7h5V164.3h-5zM781.0 164.4h5V184.3h-5zM788.0 184.3h5V201.9h-5zM802.1 188.6h5V199.8h-5zM809.1 199.2h5V203.2h-5zM837.3 182.6h5V243.4h-5zM844.3 243.4h5V245.8h-5zM872.5 197.2h5V215.3h-5zM879.5 214.7h5V240.8h-5zM921.8 198.6h5V214.3h-5zM928.8 213.9h5V230.7h-5zM935.8 230.7h5V253.4h-5zM949.9 246.0h5V257.4h-5zM964.0 244.0h5V250.4h-5zM978.1 244.0h5V249.4h-5zM985.1 249.4h5V250.8h-5zM999.2 238.3h5V244.0h-5zM1006.2 244.0h5V248.6h-5zM1013.3 248.0h5V251.4h-5zM1020.3 251.4h5V262.0h-5zM1027.4 262.0h5V269.0h-5zM1041.4 255.6h5V278.9h-5z" fill="#f23645"/>
<path d="M16.3 692.9C17.8 693.4 21.6 695.0 25.2 695.9C28.8 696.8 33.6 698.4 37.8 698.4C42.0 698.4 46.2 697.2 50.4 695.9C54.6 694.6 58.8 691.8 63.0 690.4C67.2 689.0 71.4 688.2 75.6 687.8C79.8 687.4 84.1 687.5 88.3 687.8C92.5 688.1 96.7 688.9 100.9 689.6C105.1 690.3 109.3 691.5 113.5 692.1C117.7 692.7 122.2 693.4 126.0 693.4C129.8 693.4 132.6 693.0 136.0 692.1C139.4 691.2 142.8 690.4 146.2 688.3C149.6 686.2 152.9 683.3 156.3 679.5C159.7 675.7 163.0 670.2 166.4 665.6C169.8 661.0 173.1 656.0 176.5 651.8C179.9 647.6 183.2 643.3 186.6 640.4C190.0 637.5 193.3 635.7 196.7 634.1C200.1 632.5 203.0 631.5 206.8 630.8C210.6 630.0 215.6 629.6 219.4 629.6C223.2 629.6 226.1 630.2 229.4 630.8C232.8 631.4 235.7 632.6 239.5 633.4C243.3 634.2 247.8 634.9 252.0 635.4C256.2 635.9 260.5 636.3 264.7 636.6C268.9 636.9 274.3 637.3 277.4 637.4C280.4 637.5 280.5 637.0 283.0 637.0C285.5 637.0 288.9 637.1 292.6 637.6C296.3 638.1 301.0 638.6 305.2 639.9C309.4 641.2 313.6 643.6 317.8 645.5C322.0 647.4 326.2 649.6 330.4 651.3C334.6 653.0 338.8 654.5 343.0 655.6C347.2 656.7 351.8 657.2 355.6 657.6C359.4 658.0 362.3 658.4 365.7 658.1C369.1 657.8 372.4 656.5 375.8 655.6C379.2 654.8 382.1 653.5 385.9 653.0C389.7 652.5 394.3 652.3 398.5 652.3C402.7 652.3 407.3 652.0 411.1 653.0C414.9 654.0 417.8 656.2 421.2 658.1C424.6 660.0 427.5 662.1 431.3 664.4C435.1 666.7 439.7 669.5 443.9 672.0C448.1 674.5 452.3 677.0 456.5 679.5C460.7 682.0 464.9 685.1 469.1 687.1C473.3 689.1 477.5 690.6 481.7 691.6C485.9 692.6 490.1 693.1 494.3 693.4C498.5 693.7 502.3 693.5 506.9 693.4C511.5 693.3 517.9 692.7 522.1 692.9C526.3 693.1 528.8 693.6 532.1 694.6C535.5 695.6 538.8 697.2 542.2 698.9C545.6 700.6 548.9 702.8 552.3 704.7C555.7 706.6 559.8 708.8 562.4 710.5C565.0 712.2 565.1 712.8 567.6 714.8C570.1 716.8 574.2 720.5 577.6 722.4C581.0 724.3 584.3 725.4 587.7 726.2C591.1 727.0 594.4 727.5 597.8 727.4C601.2 727.3 604.5 727.0 607.9 725.7C611.3 724.5 614.6 721.9 618.0 719.9C621.4 717.9 624.7 715.8 628.1 713.5C631.5 711.2 634.8 708.3 638.2 706.0C641.6 703.7 644.9 701.5 648.3 699.7C651.6 697.9 654.9 696.4 658.3 695.4C661.6 694.4 664.6 694.0 668.4 693.9C672.2 693.8 677.2 694.4 681.0 694.6C684.8 694.9 687.7 695.4 691.1 695.4C694.5 695.4 697.8 694.9 701.2 694.6C704.6 694.3 707.5 693.7 711.3 693.4C715.1 693.1 719.7 693.1 723.9 692.9C728.1 692.7 732.3 692.1 736.5 692.1C740.7 692.1 744.9 692.7 749.1 692.9C753.3 693.1 757.5 693.4 761.7 693.4C765.9 693.4 770.1 692.8 774.3 692.9C778.5 693.0 782.7 693.4 786.9 693.9C791.1 694.4 795.3 695.1 799.5 695.9C803.7 696.6 807.9 697.7 812.1 698.4C816.3 699.1 820.9 699.6 824.7 700.2C828.5 700.8 831.8 701.1 834.8 701.9C837.8 702.6 839.8 703.8 842.5 704.7C845.2 705.6 847.8 706.3 850.9 707.2C854.0 708.1 857.8 709.1 861.3 709.9C864.8 710.7 868.3 711.4 871.8 712.0C875.3 712.6 878.7 713.1 882.2 713.5C885.7 713.9 889.1 714.3 892.6 714.5C896.1 714.7 899.6 714.6 903.1 714.5C906.6 714.4 910.0 713.9 913.5 713.7C917.0 713.5 920.4 713.2 923.9 713.1C927.4 713.0 930.9 712.9 934.4 713.1C937.9 713.3 941.3 713.7 944.8 714.1C948.3 714.5 951.8 715.2 955.3 715.6C958.8 716.0 962.2 716.4 965.7 716.8C969.2 717.1 972.3 717.5 976.1 717.7C979.9 718.0 984.5 718.3 988.7 718.3C992.9 718.3 997.0 717.9 1001.2 717.7C1005.4 717.5 1009.5 717.2 1013.7 717.2C1017.9 717.2 1022.0 717.7 1026.2 717.9C1030.4 718.1 1035.8 718.3 1038.8 718.5C1041.8 718.7 1043.1 719.0 1044.0 719.1" fill="none" stroke="#ff6d00" stroke-width="1.4" stroke-opacity="0.92" stroke-linejoin="round" stroke-linecap="round"/>
<path d="M16.3 700.4C17.8 700.8 21.6 703.0 25.2 702.7C28.8 702.5 33.6 701.1 37.8 698.9C42.0 696.7 46.6 692.4 50.4 689.6C54.2 686.8 57.6 683.6 60.5 682.0C63.4 680.4 65.5 680.0 68.0 680.0C70.5 680.0 72.2 680.6 75.6 682.0C79.0 683.4 84.1 686.2 88.3 688.3C92.5 690.4 96.7 692.8 100.9 694.6C105.1 696.4 109.3 698.7 113.5 698.9C117.7 699.1 122.2 697.0 126.0 695.9C129.8 694.8 132.6 695.2 136.0 692.1C139.4 689.0 142.8 683.9 146.2 677.0C149.6 670.1 153.4 657.6 156.3 650.5C159.2 643.4 161.0 638.3 163.9 634.1C166.8 629.9 171.1 628.2 174.0 625.3C176.9 622.4 178.6 618.3 181.5 616.5C184.4 614.7 188.2 614.7 191.6 614.7C195.0 614.7 198.8 615.1 201.7 616.5C204.6 617.9 206.4 620.9 209.3 622.8C212.2 624.7 216.1 625.7 219.4 627.8C222.8 629.9 226.1 633.6 229.4 635.4C232.8 637.2 235.7 638.2 239.5 638.4C243.3 638.6 248.6 636.5 252.0 636.6C255.4 636.7 256.9 638.3 259.7 639.2C262.4 640.1 265.6 642.4 268.5 642.2C271.4 642.0 275.0 638.9 277.4 637.9C279.8 636.9 280.9 636.3 283.0 636.5C285.1 636.7 286.8 638.0 290.1 639.2C293.4 640.4 298.9 641.0 302.7 643.5C306.5 646.0 309.9 651.4 312.8 654.3C315.7 657.1 317.4 659.0 320.3 660.6C323.2 662.2 327.0 663.5 330.4 663.9C333.8 664.3 337.1 663.0 340.5 663.1C343.9 663.2 347.2 664.6 350.6 664.4C354.0 664.2 358.0 663.6 360.7 661.9C363.4 660.2 364.5 656.4 367.0 654.3C369.5 652.2 373.3 650.6 375.8 649.3C378.3 648.0 379.6 646.9 382.1 646.7C384.6 646.5 388.5 647.6 391.0 648.0C393.5 648.4 395.1 648.0 397.2 648.8C399.3 649.6 401.3 651.7 403.6 653.0C405.9 654.3 408.6 654.7 411.1 656.8C413.6 658.9 416.2 662.9 418.7 665.6C421.2 668.3 423.3 670.5 426.2 673.2C429.1 675.9 432.9 679.5 436.3 682.0C439.7 684.5 443.0 686.0 446.4 688.3C449.8 690.6 453.1 693.7 456.5 695.9C459.9 698.1 463.7 700.5 466.6 701.7C469.6 702.9 471.9 702.9 474.2 703.0C476.5 703.1 478.0 703.2 480.5 702.2C483.0 701.2 486.2 698.7 489.3 697.2C492.4 695.7 495.6 694.1 499.4 693.4C503.2 692.7 508.0 693.0 512.0 692.9C516.0 692.8 519.9 692.0 523.3 692.9C526.6 693.8 529.4 696.6 532.1 698.4C534.8 700.2 537.2 701.0 539.7 703.5C542.2 706.0 544.8 710.4 547.3 713.5C549.8 716.6 552.3 719.7 554.8 722.4C557.3 725.1 560.3 727.4 562.4 729.5C564.5 731.6 565.1 733.4 567.6 735.0C570.1 736.6 574.7 738.2 577.6 739.3C580.5 740.3 582.7 741.6 585.2 741.3C587.7 741.0 590.3 739.6 592.8 737.5C595.3 735.4 597.4 732.5 600.3 728.7C603.2 724.9 607.0 719.4 610.4 714.8C613.8 710.2 617.1 704.3 620.5 700.9C623.9 697.5 627.6 696.5 630.6 694.6C633.6 692.7 635.9 691.5 638.2 689.6C640.5 687.7 642.6 684.8 644.5 683.3C646.4 681.8 647.6 680.2 649.5 680.3C651.4 680.4 653.5 682.5 655.8 683.8C658.1 685.1 660.9 686.8 663.4 688.3C665.9 689.8 668.0 691.4 670.9 692.9C673.8 694.4 678.0 696.2 681.0 697.2C684.0 698.2 686.5 698.7 688.6 698.9C690.7 699.1 691.9 699.1 693.6 698.4C695.3 697.7 696.6 695.7 698.7 694.6C700.8 693.5 703.9 692.4 706.2 691.6C708.5 690.9 710.0 689.8 712.5 690.1C715.0 690.4 718.2 693.1 721.4 693.4C724.6 693.7 728.6 692.4 731.5 692.1C734.4 691.8 736.1 691.2 739.0 691.4C741.9 691.6 745.3 692.9 749.1 693.4C752.9 693.9 757.5 694.6 761.7 694.6C765.9 694.6 770.9 693.4 774.3 693.4C777.7 693.4 779.4 693.9 781.9 694.6C784.4 695.4 786.5 697.0 789.4 697.9C792.3 698.8 795.7 699.1 799.5 700.2C803.3 701.3 808.3 703.8 812.1 704.7C815.9 705.6 819.1 705.5 822.2 705.5C825.4 705.5 828.5 704.4 831.0 704.9C833.5 705.4 835.1 707.1 837.4 708.5C839.7 709.9 842.3 712.0 844.9 713.5C847.5 715.0 850.3 716.9 853.0 717.7C855.7 718.5 858.9 718.6 861.3 718.3C863.7 717.9 865.5 716.1 867.6 715.6C869.7 715.1 871.7 715.0 873.8 715.2C875.9 715.4 877.6 716.4 880.1 716.8C882.6 717.2 885.7 717.7 888.5 717.7C891.3 717.7 894.0 717.3 896.8 716.8C899.6 716.3 902.4 715.5 905.2 714.7C908.0 713.9 911.1 712.7 913.5 712.0C915.9 711.3 917.7 710.8 919.8 710.6C921.9 710.4 923.9 710.4 926.0 710.6C928.1 710.8 930.2 711.3 932.3 712.0C934.4 712.7 936.5 713.9 938.6 714.7C940.7 715.5 942.7 716.1 944.8 716.8C946.9 717.5 948.7 718.3 951.1 718.7C953.5 719.1 955.9 719.2 959.4 719.3C962.9 719.4 967.8 719.4 972.0 719.3C976.2 719.2 981.0 719.1 984.5 718.9C988.0 718.7 989.7 718.5 992.8 718.3C995.9 718.1 999.8 717.8 1003.3 717.7C1006.8 717.6 1010.2 717.6 1013.7 717.7C1017.2 717.8 1021.1 718.1 1024.2 718.3C1027.3 718.5 1030.1 718.8 1032.5 718.9C1034.9 719.0 1036.9 718.4 1038.8 718.7C1040.7 719.1 1043.1 720.6 1044.0 721.0" fill="none" stroke="#2962ff" stroke-width="1.4" stroke-opacity="0.92" stroke-linejoin="round" stroke-linecap="round"/>
</g>
<circle cx="40.3" cy="16.2" r="7.5" fill="#ef961d"/>
<path d="M40.1 12.9h1v4.4h-1z" fill="#fff" opacity="0.6"/>
<circle cx="33.4" cy="22.5" r="9.5" fill="#ffffff"/>
<circle cx="33.4" cy="22.5" r="7.4" fill="#f7f7fd"/>
<path d="M33.4 15.8l3 6.6-3 1.8-3-1.8z" fill="#c5dcf5" opacity="0.9"/>
<path d="M33.4 25.2l3-1.9-3 5.6-3-5.6z" fill="#8c8ce6" opacity="0.9"/>
<path d="M33.4 21.4l3 1-3 1.8-3-1.8z" fill="#a9b4ee" opacity="0.9"/>
<text y="26.1" font-size="17" fill="#131722" stroke="#131722" stroke-width="0.3"><tspan x="52.3" textLength="77.5" lengthAdjust="spacingAndGlyphs">Ethereum</tspan> <tspan x="140.2" textLength="5.6" lengthAdjust="spacingAndGlyphs">/</tspan> <tspan x="152.2" textLength="54.2" lengthAdjust="spacingAndGlyphs">Bitcoin</tspan> <tspan x="212.6" textLength="4.4" lengthAdjust="spacingAndGlyphs">·</tspan> <tspan x="224.0" textLength="22.0" lengthAdjust="spacingAndGlyphs">1W</tspan> <tspan x="250.4" textLength="4.4" lengthAdjust="spacingAndGlyphs">·</tspan> <tspan x="261.7" textLength="68.0" lengthAdjust="spacingAndGlyphs">BINANCE</tspan></text>
<circle cx="358.6" cy="19.6" r="9.3" fill="#d3efe8"/>
<circle cx="358.6" cy="19.6" r="4.3" fill="#089981"/>
<text x="387.0" y="25.0" font-size="14" fill="#131722" stroke="#131722" stroke-width="0.3" textLength="9.0" lengthAdjust="spacingAndGlyphs">O</text>
<text x="398.0" y="25.0" font-size="14" fill="#f23645" stroke="#f23645" stroke-width="0.3" textLength="52.0" lengthAdjust="spacingAndGlyphs">0.06195</text>
<text x="458.0" y="25.0" font-size="14" fill="#131722" stroke="#131722" stroke-width="0.3" textLength="9.0" lengthAdjust="spacingAndGlyphs">H</text>
<text x="468.4" y="25.0" font-size="14" fill="#f23645" stroke="#f23645" stroke-width="0.3" textLength="51.5" lengthAdjust="spacingAndGlyphs">0.06195</text>
<text x="528.0" y="25.0" font-size="14" fill="#131722" stroke="#131722" stroke-width="0.3" textLength="5.6" lengthAdjust="spacingAndGlyphs">L</text>
<text x="535.0" y="25.0" font-size="14" fill="#f23645" stroke="#f23645" stroke-width="0.3" textLength="52.0" lengthAdjust="spacingAndGlyphs">0.05855</text>
<text x="595.0" y="25.0" font-size="14" fill="#131722" stroke="#131722" stroke-width="0.3" textLength="9.0" lengthAdjust="spacingAndGlyphs">C</text>
<text x="605.2" y="25.0" font-size="14" fill="#f23645" stroke="#f23645" stroke-width="0.3" textLength="51.5" lengthAdjust="spacingAndGlyphs">0.05883</text>
<text x="664.9" y="25.0" font-size="14" fill="#f23645" stroke="#f23645" stroke-width="0.3" textLength="57.7" lengthAdjust="spacingAndGlyphs">−0.00312</text>
<text x="729.9" y="25.0" font-size="14" fill="#f23645" stroke="#f23645" stroke-width="0.3" textLength="54.3" lengthAdjust="spacingAndGlyphs">(−5.04%)</text>
<rect x="25.7" y="38.6" width="69.6" height="25.6" rx="4" fill="#fff" stroke="#f58a93" stroke-width="1.2"/>
<text x="34.0" y="56.6" font-size="14" fill="#f23645" stroke="#f23645" stroke-width="0.3" textLength="51.7" lengthAdjust="spacingAndGlyphs">0.05883</text>
<text x="104.6" y="56.6" font-size="14" fill="#131722" stroke="#131722" stroke-width="0.3" textLength="46.7" lengthAdjust="spacingAndGlyphs">0.00001</text>
<rect x="161.9" y="38.6" width="69.2" height="25.6" rx="4" fill="#fff" stroke="#7b9bf5" stroke-width="1.2"/>
<text x="171.0" y="56.6" font-size="14" fill="#2b5be0" stroke="#2b5be0" stroke-width="0.3" textLength="52.0" lengthAdjust="spacingAndGlyphs">0.05884</text>
<rect x="24" y="76" width="378" height="20" fill="#fff" opacity="0.6"/>
<text y="89.0" font-size="13" fill="#131722" stroke="#131722" stroke-width="0.3"><tspan x="26.5" textLength="26.5" lengthAdjust="spacingAndGlyphs">EMA</tspan> <tspan x="58.5" textLength="100.4" lengthAdjust="spacingAndGlyphs">20/50/100/200</tspan></text>
<text x="167.7" y="89.0" font-size="13" fill="#f23645" stroke="#f23645" stroke-width="0.3" textLength="51.7" lengthAdjust="spacingAndGlyphs">0.06318</text>
<text x="227.0" y="89.0" font-size="13" fill="#f7941d" stroke="#f7941d" stroke-width="0.3" textLength="51.6" lengthAdjust="spacingAndGlyphs">0.06558</text>
<text x="285.0" y="89.0" font-size="13" fill="#2fdde0" stroke="#2fdde0" stroke-width="0.3" textLength="53.0" lengthAdjust="spacingAndGlyphs">0.06452</text>
<text x="345.0" y="89.0" font-size="13" fill="#3434c8" stroke="#3434c8" stroke-width="0.3" textLength="52.5" lengthAdjust="spacingAndGlyphs">0.05805</text>
<rect x="27" y="100.3" width="31" height="21.2" rx="4" fill="#fff" stroke="#e0e2e8" stroke-width="1.2"/>
<path d="M38.6 112.6l4-4 4 4" fill="none" stroke="#131722" stroke-width="1.6" stroke-linecap="round" stroke-linejoin="round"/>
<rect x="24" y="606" width="398" height="19" fill="#fff" opacity="0.55"/>
<text y="619.0" font-size="13" fill="#131722" stroke="#131722" stroke-width="0.3"><tspan x="26.5" textLength="35.3" lengthAdjust="spacingAndGlyphs">MACD</tspan> <tspan x="69.3" textLength="13.4" lengthAdjust="spacingAndGlyphs">12</tspan> <tspan x="88.8" textLength="14.1" lengthAdjust="spacingAndGlyphs">26</tspan> <tspan x="108.4" textLength="31.6" lengthAdjust="spacingAndGlyphs">close</tspan> <tspan x="146.2" textLength="6.3" lengthAdjust="spacingAndGlyphs">9</tspan> <tspan x="160.1" textLength="27.7" lengthAdjust="spacingAndGlyphs">EMA</tspan> <tspan x="190.4" textLength="25.9" lengthAdjust="spacingAndGlyphs">EMA</tspan></text>
<text x="228.2" y="619.0" font-size="13" fill="#ff5252" stroke="#ff5252" stroke-width="0.3" textLength="58.0" lengthAdjust="spacingAndGlyphs">−0.00020</text>
<text x="293.9" y="619.0" font-size="13" fill="#2962ff" stroke="#2962ff" stroke-width="0.3" textLength="59.2" lengthAdjust="spacingAndGlyphs">−0.00179</text>
<text x="360.7" y="619.0" font-size="13" fill="#ff6d00" stroke="#ff6d00" stroke-width="0.3" textLength="58.7" lengthAdjust="spacingAndGlyphs">−0.00159</text>
<text x="1076.2" y="16.4" font-size="13" fill="#131722" stroke="#131722" stroke-width="0.3" textLength="48.0" lengthAdjust="spacingAndGlyphs">0.09500</text>
<text x="1076.2" y="53.4" font-size="13" fill="#131722" stroke="#131722" stroke-width="0.3" textLength="48.0" lengthAdjust="spacingAndGlyphs">0.09000</text>
<text x="1076.2" y="90.3" font-size="13" fill="#131722" stroke="#131722" stroke-width="0.3" textLength="48.0" lengthAdjust="spacingAndGlyphs">0.08500</text>
<text x="1076.2" y="127.3" font-size="13" fill="#131722" stroke="#131722" stroke-width="0.3" textLength="48.0" lengthAdjust="spacingAndGlyphs">0.08000</text>
<text x="1076.2" y="164.3" font-size="13" fill="#131722" stroke="#131722" stroke-width="0.3" textLength="48.0" lengthAdjust="spacingAndGlyphs">0.07500</text>
<text x="1076.2" y="201.2" font-size="13" fill="#131722" stroke="#131722" stroke-width="0.3" textLength="48.0" lengthAdjust="spacingAndGlyphs">0.07000</text>
<text x="1076.2" y="238.2" font-size="13" fill="#131722" stroke="#131722" stroke-width="0.3" textLength="48.0" lengthAdjust="spacingAndGlyphs">0.06500</text>
<text x="1076.2" y="275.2" font-size="13" fill="#131722" stroke="#131722" stroke-width="0.3" textLength="48.0" lengthAdjust="spacingAndGlyphs">0.06000</text>
<text x="1076.2" y="312.2" font-size="13" fill="#131722" stroke="#131722" stroke-width="0.3" textLength="48.0" lengthAdjust="spacingAndGlyphs">0.05500</text>
<text x="1076.2" y="349.1" font-size="13" fill="#131722" stroke="#131722" stroke-width="0.3" textLength="48.0" lengthAdjust="spacingAndGlyphs">0.05000</text>
<text x="1076.2" y="386.1" font-size="13" fill="#131722" stroke="#131722" stroke-width="0.3" textLength="48.0" lengthAdjust="spacingAndGlyphs">0.04500</text>
<text x="1076.2" y="423.1" font-size="13" fill="#131722" stroke="#131722" stroke-width="0.3" textLength="48.0" lengthAdjust="spacingAndGlyphs">0.04000</text>
<text x="1076.2" y="460.0" font-size="13" fill="#131722" stroke="#131722" stroke-width="0.3" textLength="48.0" lengthAdjust="spacingAndGlyphs">0.03500</text>
<text x="1076.2" y="497.0" font-size="13" fill="#131722" stroke="#131722" stroke-width="0.3" textLength="48.0" lengthAdjust="spacingAndGlyphs">0.03000</text>
<text x="1076.2" y="534.0" font-size="13" fill="#131722" stroke="#131722" stroke-width="0.3" textLength="48.0" lengthAdjust="spacingAndGlyphs">0.02500</text>
<text x="1076.2" y="570.9" font-size="13" fill="#131722" stroke="#131722" stroke-width="0.3" textLength="48.0" lengthAdjust="spacingAndGlyphs">0.02000</text>
<text x="1076.2" y="614.7" font-size="13" fill="#131722" stroke="#131722" stroke-width="0.3" textLength="48.0" lengthAdjust="spacingAndGlyphs">0.01000</text>
<text x="1076.2" y="661.7" font-size="13" fill="#131722" stroke="#131722" stroke-width="0.3" textLength="48.0" lengthAdjust="spacingAndGlyphs">0.00500</text>
<text x="1069.5" y="755.7" font-size="13" fill="#131722" stroke="#131722" stroke-width="0.3" textLength="55.0" lengthAdjust="spacingAndGlyphs">−0.00500</text>
<rect x="1067" y="198.4" width="64.2" height="19.6" fill="#f57f17"/>
<text x="1076.2" y="212.9" font-size="13" fill="#fff" stroke="#fff" stroke-width="0.45" textLength="48.0" lengthAdjust="spacingAndGlyphs">0.06558</text>
<rect x="1067" y="218.0" width="64.2" height="20.6" fill="#26e8e8"/>
<text x="1076.2" y="233.0" font-size="13" fill="#10353a" stroke="#10353a" stroke-width="0.45" textLength="48.0" lengthAdjust="spacingAndGlyphs">0.06452</text>
<rect x="1067" y="238.6" width="64.2" height="18.4" fill="#ff0000"/>
<text x="1076.2" y="252.5" font-size="13" fill="#fff" stroke="#fff" stroke-width="0.45" textLength="48.0" lengthAdjust="spacingAndGlyphs">0.06318</text>
<rect x="1067" y="269" width="64.2" height="36" fill="#f23645"/>
<text x="1076.2" y="283.8" font-size="13" fill="#fff" stroke="#fff" stroke-width="0.45" textLength="48.0" lengthAdjust="spacingAndGlyphs">0.05883</text>
<text x="1077.0" y="299.6" font-size="13" fill="#fff" stroke="#fff" stroke-width="0.45" textLength="39.0" lengthAdjust="spacingAndGlyphs">1d 21h</text>
<rect x="1067" y="305.0" width="64.2" height="19.6" fill="#0000ff"/>
<text x="1076.2" y="319.5" font-size="13" fill="#fff" stroke="#fff" stroke-width="0.45" textLength="48.0" lengthAdjust="spacingAndGlyphs">0.05805</text>
<rect x="1067" y="695.0" width="70.6" height="20.0" fill="#ff5252"/>
<text x="1076.3" y="709.7" font-size="13" fill="#fff" stroke="#fff" stroke-width="0.45" textLength="55.5" lengthAdjust="spacingAndGlyphs">−0.00020</text>
<rect x="1067" y="715.0" width="70.6" height="20.0" fill="#ff6d00"/>
<text x="1076.3" y="729.7" font-size="13" fill="#fff" stroke="#fff" stroke-width="0.45" textLength="55.5" lengthAdjust="spacingAndGlyphs">−0.00159</text>
<rect x="1067" y="735.0" width="70.6" height="20.3" fill="#2962ff"/>
<text x="1076.3" y="749.9" font-size="13" fill="#fff" stroke="#fff" stroke-width="0.45" textLength="55.5" lengthAdjust="spacingAndGlyphs">−0.00179</text>
<circle cx="1043.8" cy="578.9" r="11" fill="#fff" stroke="#9c27b0" stroke-width="1.5"/>
<path d="M1047.8 572.8l-8.4 7.2h4.2l-3.8 5.4 8.6-7.4h-4.2z" fill="#9c27b0" stroke="#9c27b0" stroke-width="0.6" stroke-linejoin="round"/>
<path d="M30.1 722.8h13.4v16.2h-7v-9.9h-6.4z" fill="#131722"/>
<circle cx="48.7" cy="725.8" r="3" fill="#131722"/>
<path d="M55.4 722.8h8l-6.7 16.2h-7.8z" fill="#131722"/>
<text x="72.2" y="739.0" font-size="22" fill="#131722" textLength="136.5" lengthAdjust="spacingAndGlyphs" font-weight="bold">TradingView</text>
<text x="21.5" y="776.4" font-size="12.5" fill="#131722" stroke="#131722" stroke-width="0.7" textLength="31.5" lengthAdjust="spacingAndGlyphs">2021</text>
<text x="118.2" y="776.4" font-size="12.5" fill="#131722" stroke="#131722" stroke-width="0.35" textLength="21.0" lengthAdjust="spacingAndGlyphs">Apr</text>
<text x="211.3" y="776.4" font-size="12.5" fill="#131722" stroke="#131722" stroke-width="0.35" textLength="18.0" lengthAdjust="spacingAndGlyphs">Jul</text>
<text x="300.5" y="776.4" font-size="12.5" fill="#131722" stroke="#131722" stroke-width="0.35" textLength="22.5" lengthAdjust="spacingAndGlyphs">Oct</text>
<text x="387.6" y="776.4" font-size="12.5" fill="#131722" stroke="#131722" stroke-width="0.7" textLength="31.5" lengthAdjust="spacingAndGlyphs">2022</text>
<text x="484.3" y="776.4" font-size="12.5" fill="#131722" stroke="#131722" stroke-width="0.35" textLength="21.0" lengthAdjust="spacingAndGlyphs">Apr</text>
<text x="577.3" y="776.4" font-size="12.5" fill="#131722" stroke="#131722" stroke-width="0.35" textLength="18.0" lengthAdjust="spacingAndGlyphs">Jul</text>
<text x="666.6" y="776.4" font-size="12.5" fill="#131722" stroke="#131722" stroke-width="0.35" textLength="22.5" lengthAdjust="spacingAndGlyphs">Oct</text>
<text x="753.6" y="776.4" font-size="12.5" fill="#131722" stroke="#131722" stroke-width="0.7" textLength="31.5" lengthAdjust="spacingAndGlyphs">2023</text>
<text x="850.4" y="776.4" font-size="12.5" fill="#131722" stroke="#131722" stroke-width="0.35" textLength="21.0" lengthAdjust="spacingAndGlyphs">Apr</text>
<text x="943.4" y="776.4" font-size="12.5" fill="#131722" stroke="#131722" stroke-width="0.35" textLength="18.0" lengthAdjust="spacingAndGlyphs">Jul</text>
<text x="1033.4" y="776.4" font-size="12.5" fill="#131722" stroke="#131722" stroke-width="0.35" textLength="21.0" lengthAdjust="spacingAndGlyphs">Oct</text>
<path d="M1096.8 771.8l4.1-7.3h8.2l4.1 7.3-4.1 7.3h-8.2z" fill="none" stroke="#131722" stroke-width="1.5" stroke-linejoin="round"/>
<circle cx="1104.9" cy="771.8" r="2.5" fill="none" stroke="#131722" stroke-width="1.5"/>
<text x="33.9" y="814.4" font-size="15" fill="#131722" stroke="#131722" stroke-width="0.3" textLength="16.0" lengthAdjust="spacingAndGlyphs">1D</text>
<text x="64.9" y="814.4" font-size="15" fill="#131722" stroke="#131722" stroke-width="0.3" textLength="16.8" lengthAdjust="spacingAndGlyphs">5D</text>
<text x="97.4" y="814.4" font-size="15" fill="#131722" stroke="#131722" stroke-width="0.3" textLength="18.3" lengthAdjust="spacingAndGlyphs">1M</text>
<text x="131.0" y="814.4" font-size="15" fill="#131722" stroke="#131722" stroke-width="0.3" textLength="18.6" lengthAdjust="spacingAndGlyphs">3M</text>
<text x="164.0" y="814.4" font-size="15" fill="#131722" stroke="#131722" stroke-width="0.3" textLength="19.1" lengthAdjust="spacingAndGlyphs">6M</text>
<text x="197.3" y="814.4" font-size="15" fill="#131722" stroke="#131722" stroke-width="0.3" textLength="27.1" lengthAdjust="spacingAndGlyphs">YTD</text>
<text x="240.4" y="814.4" font-size="15" fill="#131722" stroke="#131722" stroke-width="0.3" textLength="14.8" lengthAdjust="spacingAndGlyphs">1Y</text>
<text x="270.9" y="814.4" font-size="15" fill="#131722" stroke="#131722" stroke-width="0.3" textLength="14.8" lengthAdjust="spacingAndGlyphs">5Y</text>
<text x="301.3" y="814.4" font-size="15" fill="#131722" stroke="#131722" stroke-width="0.3" textLength="18.3" lengthAdjust="spacingAndGlyphs">All</text>
<rect x="332" y="796" width="1.2" height="27" fill="#e3e4e8"/>
<g fill="none" stroke="#131722" stroke-width="1.5" stroke-linecap="round" stroke-linejoin="round"><path d="M348.3 807.2v-3a2.4 2.4 0 0 1 2.4-2.4h15.7a2.4 2.4 0 0 1 2.4 2.4v11.3a2.4 2.4 0 0 1-2.4 2.4h-6.6"/><path d="M348.3 806.1h20.5M354.3 799.2v2.6M362.2 799.2v2.6M347.6 814.3h7.4M352.2 811.4l2.9 2.9-2.9 2.9"/></g>
<text x="1011.3" y="815.0" font-size="15" fill="#131722" stroke="#131722" stroke-width="0.3" textLength="123.5" lengthAdjust="spacingAndGlyphs">11:26:46 (UTC+8)</text>
</svg></body></html>
